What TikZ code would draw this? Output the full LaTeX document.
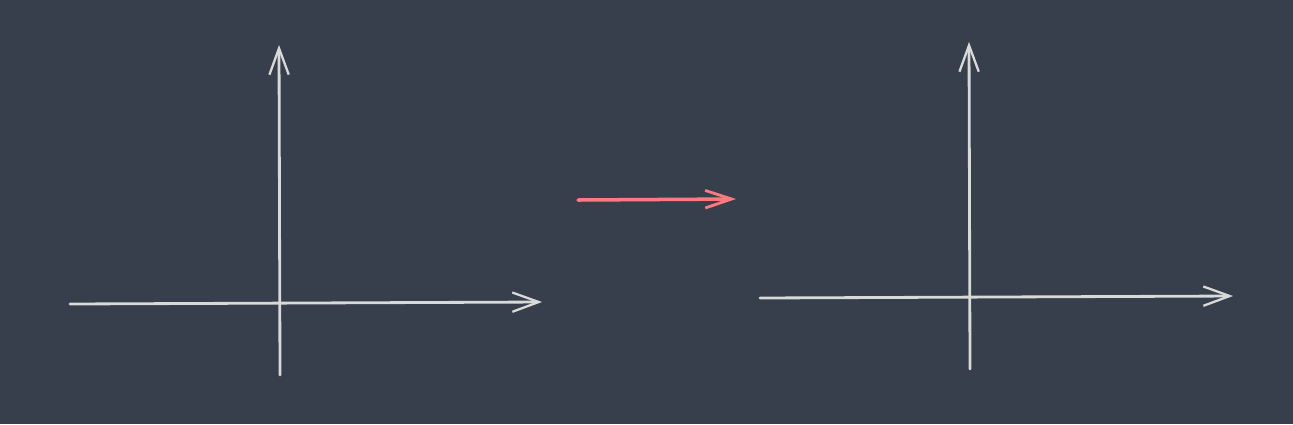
\documentclass[tikz,border=0pt]{standalone}
\usetikzlibrary{arrows.meta}
\definecolor{bgslate}{HTML}{383F4C}
\definecolor{axisgrey}{HTML}{D9D9D9}
\definecolor{mapred}{HTML}{FF7A7E}
\tikzset{
  axis/.style={draw=axisgrey, line width=1.6pt, line cap=round, -{Straight Barb[length=15pt,width=11pt,line width=1.3pt]}},
  maparrow/.style={draw=mapred, line width=2pt, line cap=round, -{Straight Barb[length=15pt,width=10pt,line width=1.6pt]}}
}
\begin{document}
\begin{tikzpicture}[x=0.02cm,y=-0.02cm]
\fill[bgslate] (0,0) rectangle (1293,424);
\useasboundingbox (0,0) rectangle (1293,424);
% left axes
\coordinate (lx0) at (70,304); \coordinate (lx1) at (542,302);
\coordinate (ly0) at (280,375); \coordinate (ly1) at (279,45);
\draw[axis] (lx0) -- (lx1);
\draw[axis] (ly0) -- (ly1);
% map
\coordinate (m0) at (578,200); \coordinate (m1) at (736,199);
\draw[maparrow] (m0) -- (m1);
% right axes
\coordinate (rx0) at (760,298); \coordinate (rx1) at (1233,296);
\coordinate (ry0) at (970,369); \coordinate (ry1) at (969,42);
\draw[axis] (rx0) -- (rx1);
\draw[axis] (ry0) -- (ry1);
\end{tikzpicture}
\end{document}
